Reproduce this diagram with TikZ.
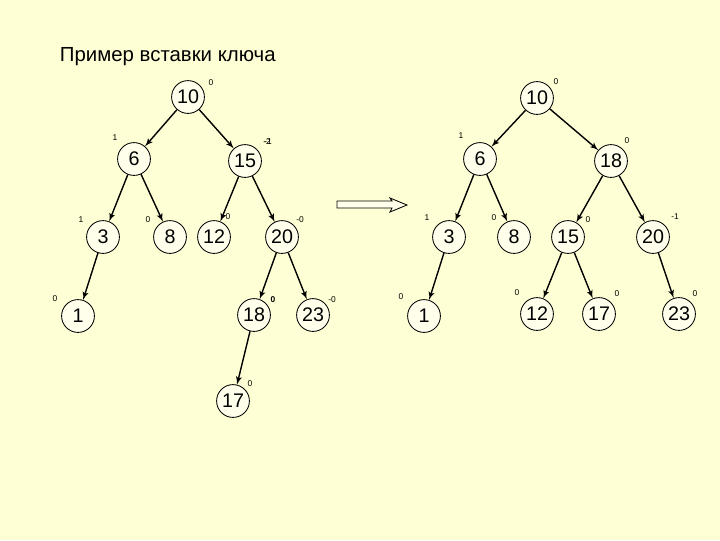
\documentclass[tikz,border=0pt]{standalone}
\usepackage{fontspec}
\setmainfont{Liberation Sans}
\usetikzlibrary{arrows}

\definecolor{paper}{RGB}{255,255,213}
\definecolor{knotfill}{RGB}{255,255,236}

\begin{document}
\begin{tikzpicture}[x=0.025cm,y=-0.025cm,
    knot/.style={circle,draw,line width=.6pt,fill=knotfill,minimum size=0.82cm,inner sep=0pt,
      font=\fontsize{14}{15}\selectfont},
    bal/.style={inner sep=0pt,font=\fontsize{6}{7}\selectfont},
    edge/.style={line width=1pt,-{latex'[scale=1.2]}}]
  \fill[paper] (0,0) rectangle (720,540);
  \useasboundingbox (0,0) rectangle (720,540);

  \node[anchor=base west,font=\fontsize{14.5}{16}\selectfont] (title) at (55,61) {Пример вставки ключа};

  % before
  \node[knot] (a10) at (188,97) {10};
  \node[knot] (a6)  at (134,159) {6};
  \node[knot] (a15) at (245,161) {15};
  \node[knot] (a3)  at (103,237) {3};
  \node[knot] (a8)  at (170,237) {8};
  \node[knot] (a12) at (214,237) {12};
  \node[knot] (a20) at (282,237) {20};
  \node[knot] (a1)  at (78,316) {1};
  \node[knot] (a18) at (254,315) {18};
  \node[knot] (a23) at (313,315) {23};
  \node[knot] (a17) at (233,401) {17};

  \node[bal] (ba10) at (211,83) {0};
  \node[bal] (ba6)  at (115,138) {1};
  \node[bal] (ba15) at (267,142) {-2};
  \node[bal] (ba15x) at (268,142) {-1};
  \node[bal] (ba3)  at (81,220) {1};
  \node[bal] (ba8)  at (148,220) {0};
  \node[bal] (ba12) at (228,217) {0};
  \node[bal] (ba20) at (300,220) {-0};
  \node[bal] (ba1)  at (55,299) {0};
  \node[bal] (ba18) at (273,300) {\textbf{0}};
  \node[bal] (ba23) at (332,300) {-0};
  \node[bal] (ba17) at (250,384) {0};

  \draw[edge] (a10) -- (a6);
  \draw[edge] (a10) -- (a15);
  \draw[edge] (a6) -- (a3);
  \draw[edge] (a6) -- (a8);
  \draw[edge] (a15) -- (a12);
  \draw[edge] (a15) -- (a20);
  \draw[edge] (a3) -- (a1);
  \draw[edge] (a20) -- (a18);
  \draw[edge] (a20) -- (a23);
  \draw[edge] (a18) -- (a17);

  % hollow arrow
  \draw[line width=.6pt,fill=knotfill] (337,201) -- (392,201) -- (390,198) -- (407,205)
    -- (390,212) -- (392,208) -- (337,208) -- cycle;

  % after
  \node[knot] (b10) at (537,98) {10};
  \node[knot] (b6)  at (480,159) {6};
  \node[knot] (b18) at (611,161) {18};
  \node[knot] (b3)  at (449,237) {3};
  \node[knot] (b8)  at (514,237) {8};
  \node[knot] (b15) at (568,237) {15};
  \node[knot] (b20) at (653,237) {20};
  \node[knot] (b1)  at (424,316) {1};
  \node[knot] (b12) at (537,314) {12};
  \node[knot] (b17) at (599,314) {17};
  \node[knot] (b23) at (679,314) {23};

  \node[bal] (bb10) at (556,82) {0};
  \node[bal] (bb6)  at (461,136) {1};
  \node[bal] (bb18) at (627,141) {0};
  \node[bal] (bb3)  at (427,218) {1};
  \node[bal] (bb8)  at (494,218) {0};
  \node[bal] (bb15) at (588,220) {0};
  \node[bal] (bb20) at (675,217) {-1};
  \node[bal] (bb1)  at (401,297) {0};
  \node[bal] (bb12) at (517,293) {0};
  \node[bal] (bb17) at (617,294) {0};
  \node[bal] (bb23) at (695,294) {0};

  \draw[edge] (b10) -- (b6);
  \draw[edge] (b10) -- (b18);
  \draw[edge] (b6) -- (b3);
  \draw[edge] (b6) -- (b8);
  \draw[edge] (b3) -- (b1);
  \draw[edge] (b18) -- (b15);
  \draw[edge] (b18) -- (b20);
  \draw[edge] (b15) -- (b12);
  \draw[edge] (b15) -- (b17);
  \draw[edge] (b20) -- (b23);
\end{tikzpicture}
\end{document}
